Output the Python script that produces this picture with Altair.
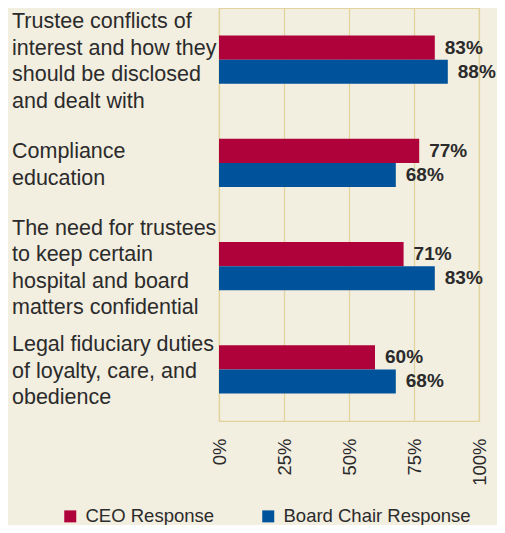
import altair as alt
import pandas as pd

keys = ["conflicts", "compliance", "confidential", "fiduciary"]
cat_labels = [
    "Trustee conflicts of\ninterest and how they\nshould be disclosed\nand dealt with",
    "Compliance\neducation",
    "The need for trustees\nto keep certain\nhospital and board\nmatters confidential",
    "Legal fiduciary duties\nof loyalty, care, and\nobedience",
]
series = ["CEO Response", "Board Chair Response"]
ceo = [83, 77, 71, 60]
board = [88, 68, 83, 68]
ticks = [0, 25, 50, 75, 100]

RED = "#b0023a"
BLUE = "#00529b"
BG = "#f2eee0"
GRID = "#e2d39d"
TXT = "#2b2b2b"
LH = 26.5

rows = []
for k, c, b in zip(keys, ceo, board):
    rows.append({"key": k, "series": series[0], "value": c, "label": f"{c}%"})
    rows.append({"key": k, "series": series[1], "value": b, "label": f"{b}%"})
df = pd.DataFrame(rows)
cats = pd.DataFrame({"key": keys, "text": cat_labels,
                     "nlines": [t.count("\n") + 1 for t in cat_labels]})

yenc = alt.Y("key:N", sort=keys, axis=None,
             scale=alt.Scale(paddingInner=0.535, paddingOuter=0.2675))
xenc = alt.X("value:Q", scale=alt.Scale(domain=[0, 100]),
             axis=alt.Axis(values=ticks, labelExpr="datum.value + '%'", labelAngle=-90,
                           grid=True, gridColor=GRID, gridWidth=1.2, domain=False, ticks=False,
                           labelPadding=17, labelFontSize=18.5, labelColor=TXT, title=None))

bars = alt.Chart(df).mark_bar().encode(
    x=xenc,
    y=yenc,
    yOffset=alt.YOffset("series:N", sort=series),
    color=alt.Color("series:N", sort=series,
                    scale=alt.Scale(domain=series, range=[RED, BLUE]),
                    legend=alt.Legend(orient="none", legendX=-158, legendY=499,
                                      direction="horizontal", title=None,
                                      symbolType="square", symbolSize=144,
                                      symbolStrokeWidth=0, labelFontSize=18.5,
                                      labelColor=TXT, labelOffset=6, columnPadding=44,
                                      labelLimit=300)),
)

vals = alt.Chart(df).mark_text(align="left", baseline="middle", dx=10, fontSize=19,
                               fontWeight="bold", color=TXT).encode(
    x="value:Q",
    y=alt.Y("key:N", sort=keys),
    yOffset=alt.YOffset("series:N", sort=series),
    text="label:N",
)

label_layers = []
for n in sorted(cats["nlines"].unique()):
    label_layers.append(
        alt.Chart(cats).transform_filter(alt.datum.nlines == int(n)).mark_text(
            align="left", baseline="middle", lineBreak="\n", fontSize=21.5,
            lineHeight=LH, color=TXT, dy=2.5 - (int(n) - 1) * LH / 2,
        ).encode(
            x=alt.value(-207),
            y=alt.Y("key:N", sort=keys),
            text="text:N",
        )
    )

chart = alt.layer(bars, vals, *label_layers).properties(
    width=260, height=413,
    autosize=alt.AutoSizeParams(type="none"),
    padding={"left": 211, "top": 0, "right": 18, "bottom": 104},
    background=BG,
).configure(font="Liberation Sans").configure_view(stroke=GRID, strokeWidth=1.2)

chart.save("out.html", embed_options={"renderer": "svg", "actions": False})
